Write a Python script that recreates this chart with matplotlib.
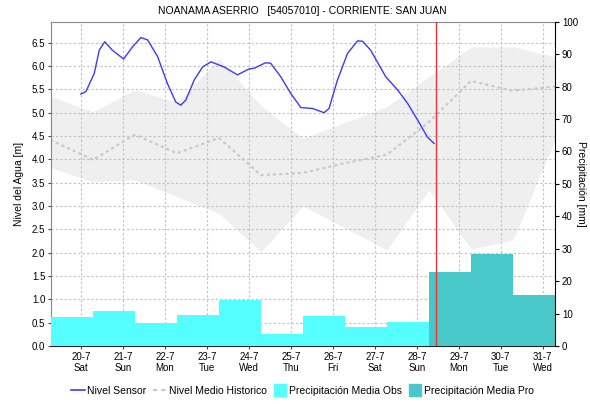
import matplotlib
matplotlib.use("Agg")
import matplotlib.pyplot as plt
from matplotlib.lines import Line2D

plt.rcParams['font.family'] = ['Liberation Sans', 'DejaVu Sans']

# time axis: day of July 2019 (float, 0h = midnight)
ticks_day = [20, 21, 22, 23, 24, 25, 26, 27, 28, 29, 30, 31]
ticks_wd = ['Sat', 'Sun', 'Mon', 'Tue', 'Wed', 'Thu', 'Fri', 'Sat', 'Sun', 'Mon', 'Tue', 'Wed']

# sensor water level [m]
sensor_t = [20.00, 20.12, 20.32, 20.44, 20.57, 20.75, 21.02, 21.23, 21.43, 21.59,
            21.83, 22.06, 22.26, 22.38, 22.50, 22.70, 22.90, 23.10, 23.41, 23.73,
            24.01, 24.12, 24.40, 24.52, 24.76, 25.00, 25.24, 25.52, 25.79, 25.91,
            26.11, 26.35, 26.59, 26.71, 26.90, 27.26, 27.54, 27.78, 28.02, 28.25, 28.41]
sensor_v = [5.40, 5.45, 5.84, 6.34, 6.52, 6.34, 6.15, 6.41, 6.61, 6.56,
            6.20, 5.63, 5.23, 5.16, 5.27, 5.70, 5.98, 6.09, 5.98, 5.81,
            5.94, 5.95, 6.07, 6.06, 5.77, 5.41, 5.11, 5.09, 5.00, 5.09,
            5.70, 6.27, 6.54, 6.53, 6.34, 5.77, 5.49, 5.20, 4.84, 4.48, 4.34]

# historical daily values (7am each day)
hist_t = [19.29, 20.29, 21.29, 22.29, 23.29, 24.29, 25.29, 26.29, 27.29, 28.29, 29.29, 30.29, 31.29]
hist_mean = [4.41, 3.99, 4.53, 4.13, 4.46, 3.66, 3.71, 3.92, 4.10, 4.80, 5.68, 5.47, 5.56]
hist_max = [5.34, 5.02, 5.49, 5.22, 6.16, 5.15, 4.45, 4.79, 5.13, 5.77, 6.41, 6.41, 6.20]
hist_min = [3.82, 3.52, 3.56, 3.20, 2.84, 2.02, 3.00, 2.53, 2.06, 3.34, 2.08, 2.27, 4.41]

# daily precipitation [mm], 7am-7am
obs_start = [19.29, 20.29, 21.29, 22.29, 23.29, 24.29, 25.29, 26.29, 27.29]
obs_mm = [9.0, 10.9, 7.2, 9.65, 14.1, 3.8, 9.35, 5.95, 7.5]
pro_start = [28.29, 29.29, 30.29]
pro_mm = [22.7, 28.3, 15.8]

now_t = 28.45

fig = plt.figure(figsize=(5.9, 4.04), dpi=100)
ax = fig.add_axes([0.0864, 0.1436, 0.8543, 0.8027])
ax2 = ax.twinx()

ax.fill_between(hist_t, hist_min, hist_max, color='#efefef', lw=0, zorder=0.5)
ax.plot(hist_t, hist_mean, color='#c8c8c8', lw=1.6, linestyle=(0, (0.6, 2.2)),
        dash_capstyle='round', zorder=2)
ax.plot(sensor_t, sensor_v, color='#3a3aff', lw=1.0, zorder=3)

ax.set_xlim(19.29, 31.29)
ax.set_ylim(0, 6.95)
ax.set_yticks([i * 0.5 for i in range(14)])
ax.set_yticklabels(['%.1f' % (i * 0.5) for i in range(14)])
ax.set_xticks(ticks_day)
ax.set_xticklabels(['%d-7\n%s' % (d, w) for d, w in zip(ticks_day, ticks_wd)])
ax.grid(True, color='#c0c0c0', linestyle=(0, (2, 2)), lw=0.8)
ax.tick_params(labelsize=7, length=2, colors='#444444', labelcolor='black', pad=2)
ax.set_ylabel('Nivel del Agua [m]', fontsize=7.5, labelpad=6)
for s in ['left', 'top']:
    ax.spines[s].set_color('#888888')
ax.spines['bottom'].set_linestyle((0, (1, 1)))
ax.spines['bottom'].set_color('#222222')
ax.spines['right'].set_visible(False)

ax2.bar(obs_start, obs_mm, width=1.0, align='edge', color='#55ffff', lw=0, zorder=2)
ax2.bar(pro_start, pro_mm, width=1.0, align='edge', color='#48c8c8', lw=0, zorder=2)
ax2.axvline(now_t, color='#ee3333', lw=1.0, zorder=3)
ax2.set_ylim(0, 100)
ax2.set_yticks(range(0, 101, 10))
ax2.tick_params(labelsize=7, length=3, pad=2)
ax2.set_ylabel('Precipitación [mm]', fontsize=7.5, rotation=270, labelpad=6)
ax2.spines['right'].set_color('black')
for s in ['left', 'top', 'bottom']:
    ax2.spines[s].set_visible(False)

fig.suptitle('NOANAMA ASERRIO   [54057010] - CORRIENTE: SAN JUAN', fontsize=7.5, x=0.513, y=0.986)

handles = [Line2D([], [], color='#3a3aff', lw=1.2),
           Line2D([], [], color='#c8c8c8', lw=1.5, linestyle=(0, (2, 2))),
           Line2D([], [], color='#55ffff', marker='s', markersize=8, linestyle='none'),
           Line2D([], [], color='#48c8c8', marker='s', markersize=8, linestyle='none')]
labels = ['Nivel Sensor', 'Nivel Medio Historico', 'Precipitación Media Obs', 'Precipitación Media Pro']
fig.legend(handles, labels, loc='center', bbox_to_anchor=(0.513, 0.032), ncol=4, frameon=False,
           fontsize=7.5, handlelength=1.3, handletextpad=0.25, columnspacing=0.6)

fig.savefig('out.png', dpi=100)
